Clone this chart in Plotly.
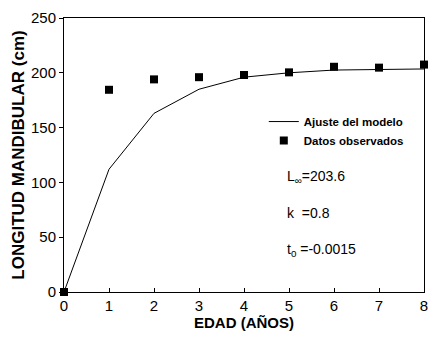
import plotly.graph_objects as go

edad = [0, 1, 2, 3, 4, 5, 6, 7, 8]
ajuste = [0, 112, 163, 185, 196, 200, 202.5, 203.2, 203.5]
observado = [0, 184.5, 194, 196, 198, 200.4, 205.5, 204.7, 207.5]

params = ["L<sub>∞</sub>=203.6", "k  =0.8", "t<sub>0</sub> =-0.0015"]
param_y = [105, 72, 38]

FONT = "Liberation Sans, Arial, sans-serif"

fig = go.Figure()
fig.add_trace(go.Scatter(x=edad, y=ajuste, mode="lines", name="Ajuste del modelo",
                         line=dict(color="black", width=1), cliponaxis=False))
fig.add_trace(go.Scatter(x=edad, y=observado, mode="markers", name="Datos observados",
                         marker=dict(symbol="square", color="black", size=8), cliponaxis=False))

for t, yv in zip(params, param_y):
    fig.add_annotation(x=4.9, y=yv, xref="x", yref="y", text=t, showarrow=False,
                       xanchor="left", yanchor="middle",
                       font=dict(family=FONT, size=14, color="black"))

fig.update_layout(
    width=428, height=342,
    margin=dict(l=64, r=4, t=18, b=50),
    paper_bgcolor="white", plot_bgcolor="white",
    font=dict(family=FONT, color="black"),
    showlegend=True,
    legend=dict(x=0.555, y=0.675, xanchor="left", yanchor="top",
                bgcolor="rgba(0,0,0,0)", itemwidth=30, tracegroupgap=0,
                font=dict(family=FONT, size=11.5, color="black", weight="bold")),
    xaxis=dict(range=[0, 8], tickvals=edad, showline=True, linecolor="black", linewidth=1,
               mirror=True, ticks="inside", ticklen=4, tickcolor="black", showgrid=False,
               zeroline=False, tickfont=dict(size=15), ticklabeloverflow="allow",
               automargin=False,
               title=dict(text="<b>EDAD (AÑOS)</b>", font=dict(size=15), standoff=4)),
    yaxis=dict(range=[0, 250], tickvals=[0, 50, 100, 150, 200, 250], showline=True,
               linecolor="black", linewidth=1, mirror=True, ticks="outside", ticklen=4,
               tickcolor="black", showgrid=False, zeroline=False, tickfont=dict(size=15),
               ticklabeloverflow="allow", automargin=False,
               title=dict(text="<b>LONGITUD MANDIBULAR (cm)</b>", font=dict(size=17), standoff=2)),
)

fig.write_html("out.html", config={"displayModeBar": False},
               post_script="document.body.style.margin='0px';document.body.style.overflow='hidden';")
